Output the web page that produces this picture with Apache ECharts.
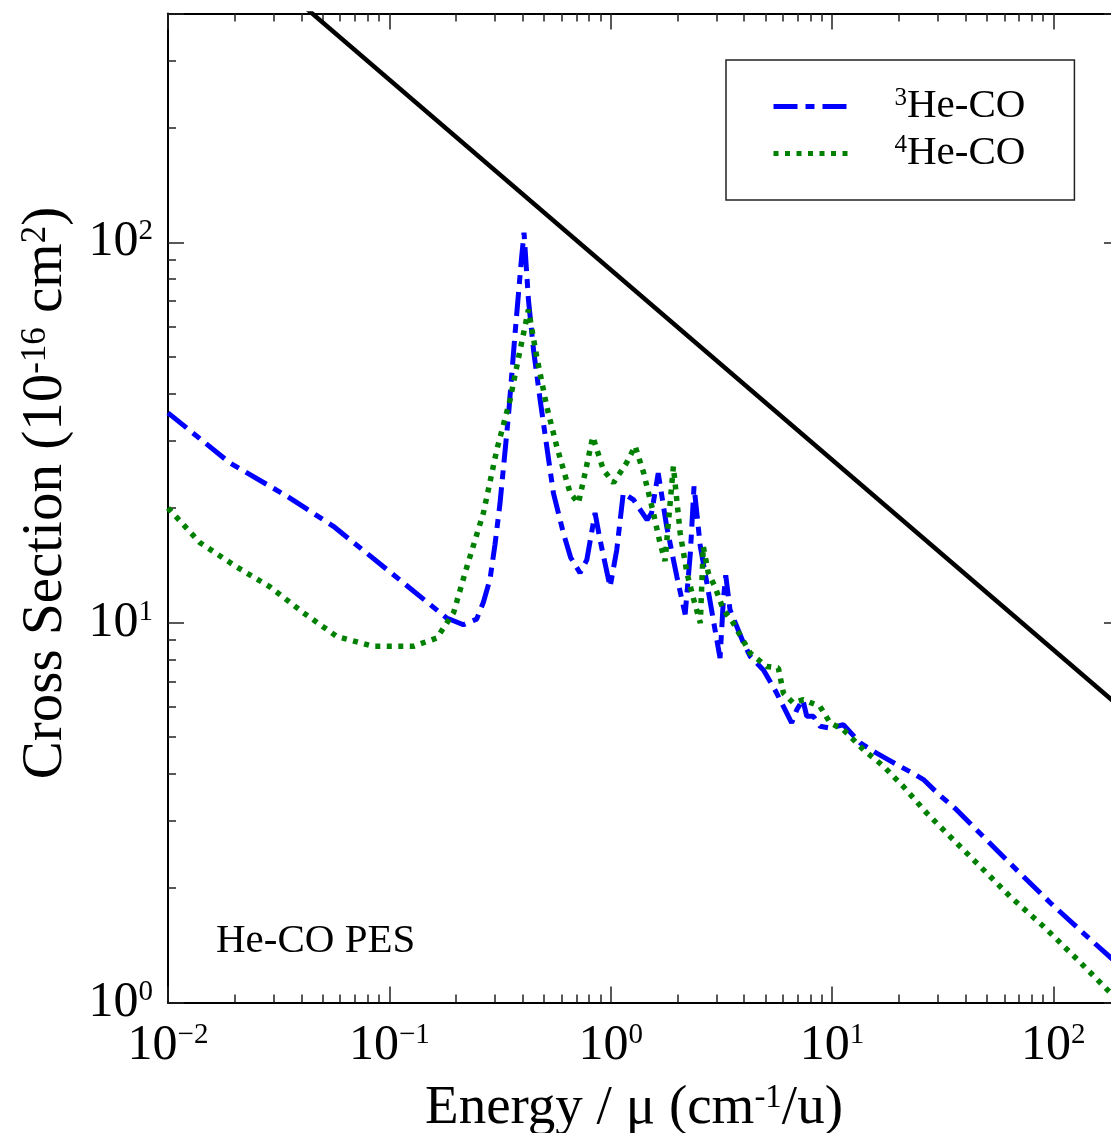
<!DOCTYPE html>
<html>
<head>
<meta charset="utf-8">
<script src="https://cdn.jsdelivr.net/npm/echarts@6/dist/echarts.min.js"></script>
<style>html,body{margin:0;padding:0;background:#fff}#c{width:1111px;height:1133px}</style>
</head>
<body>
<div id="c"></div>
<script>
// ---- data ----
const limitX = [0.01, 200];
const limitY = [847, 5.99];

const he3X = [0.01, 0.019, 0.0344, 0.0559, 0.0973, 0.1816, 0.216, 0.248, 0.266, 0.285, 0.30, 0.316, 0.345, 0.370, 0.395, 0.406, 0.425, 0.448, 0.48, 0.514, 0.551, 0.611, 0.66, 0.727, 0.78, 0.85, 0.895, 0.994, 1.065, 1.14, 1.27, 1.46, 1.53, 1.64, 1.79, 1.99, 2.17, 2.29, 2.38, 2.54, 2.72, 2.96, 3.12, 3.23, 3.31, 3.46, 3.98, 4.27, 4.9, 5.62, 6.03, 6.57, 6.93, 7.38, 7.69, 8.24, 8.83, 9.8, 11.25, 13.4, 15.9, 18.0, 20.3, 23.0, 25.9, 30.0, 36.6, 48.3, 68.4, 96.8, 137, 182, 200];
const he3Y = [35.6, 26.3, 21.5, 17.9, 13.8, 10.27, 9.86, 10.2, 11.3, 13.0, 16.0, 20.5, 34.8, 57.8, 90, 106, 70.7, 52.2, 38.5, 29.1, 21.9, 17.2, 14.8, 13.5, 14.6, 19.4, 16.5, 12.4, 15.5, 21.9, 21.0, 18.6, 19.4, 24.7, 17.9, 13.2, 10.5, 15.2, 22.8, 15.85, 12.7, 9.57, 8.06, 11.5, 13.3, 10.8, 8.83, 8.14, 7.5, 6.52, 6.01, 5.44, 5.89, 6.26, 5.66, 5.66, 5.33, 5.27, 5.38, 4.82, 4.53, 4.35, 4.18, 4.02, 3.86, 3.55, 3.21, 2.73, 2.23, 1.83, 1.52, 1.31, 1.25];

const he4X = [0.01, 0.01396, 0.0204, 0.0289, 0.0409, 0.0578, 0.0847, 0.128, 0.164, 0.195, 0.224, 0.266, 0.306, 0.351, 0.39, 0.425, 0.463, 0.514, 0.570, 0.656, 0.715, 0.766, 0.83, 0.927, 1.03, 1.18, 1.29, 1.41, 1.56, 1.67, 1.76, 1.85, 1.92, 2.06, 2.21, 2.37, 2.54, 2.62, 2.76, 2.96, 3.23, 3.58, 4.27, 5.07, 5.72, 6.03, 6.68, 7.43, 8.83, 9.8, 11.25, 13.9, 17.1, 21.0, 26.8, 34.2, 46.7, 63.8, 90.3, 128, 181, 200];
const he4Y = [20.0, 16.2, 14.0, 12.4, 10.6, 9.19, 8.65, 8.65, 9.1, 10.6, 14.0, 19.4, 28.5, 38.5, 52.2, 66.5, 50.1, 37.0, 29.1, 21.9, 20.6, 24.7, 30.8, 25.2, 23.3, 26.3, 29.1, 24.7, 19.4, 16.2, 14.5, 20.2, 25.7, 17.2, 13.5, 11.5, 9.96, 15.85, 13.5, 12.4, 10.8, 9.96, 8.3, 7.66, 7.59, 6.52, 6.14, 6.26, 6.01, 5.44, 5.22, 4.62, 4.18, 3.70, 3.15, 2.73, 2.28, 1.90, 1.585, 1.30, 1.06, 1.0];

const seriesNames = ['\u00b3He-CO', '\u2074He-CO'];
const legendSup = ['3', '4'];
const xTitle = 'Energy / \u03bc (cm{s|-1}/u)';
const yTitle = 'Cross Section (10{s|-16} cm{s|2})';
const annotation = 'He-CO PES';

// ---- chart ----
const FONT = '"Liberation Serif", "Times New Roman", serif';
const zip = (xs, ys) => xs.map((x, i) => [x, ys[i]]);

function powLabel(v) {
  const e = Math.log10(v);
  const r = Math.round(e);
  if (Math.abs(e - r) > 1e-6) return '';
  const s = r < 0 ? '\u2212' + (-r) : String(r);
  return '{b|10}{s|' + s + '}';
}
const tickRich = {
  b: {fontFamily: FONT, fontSize: 50, color: '#000'},
  s: {fontFamily: FONT, fontSize: 29, color: '#000', verticalAlign: 'top'}
};
function axisCommon(min, max) {
  return {
    type: 'log', logBase: 10, min: min, max: max,
    axisLine: {show: true, onZero: false, lineStyle: {color: '#000', width: 2}},
    axisTick: {show: true, inside: true, length: 16, lineStyle: {color: '#222', width: 1.5}},
    minorTick: {show: true, splitNumber: 9, length: 8, lineStyle: {color: '#222', width: 1.5}},
    splitLine: {show: false},
    minorSplitLine: {show: false}
  };
}

const chart = echarts.init(document.getElementById('c'), null, {renderer: 'canvas'});
chart.setOption({
  animation: false,
  backgroundColor: '#fff',
  grid: {left: 168, top: 13.5, width: 952, height: 989, containLabel: false, outerBoundsMode: 'none'},
  xAxis: [
    Object.assign(axisCommon(0.01, 200), {
      position: 'bottom',
      name: xTitle, nameLocation: 'middle', nameGap: 79,
      nameTextStyle: {fontFamily: FONT, fontSize: 55, color: '#000', padding: [0, 20, 0, 0],
        rich: {s: {fontFamily: FONT, fontSize: 33, color: '#000', verticalAlign: 'top'}}},
      axisLabel: {show: true, margin: 18, formatter: powLabel, rich: tickRich}
    }),
    Object.assign(axisCommon(0.01, 200), {position: 'top', axisLabel: {show: false}})
  ],
  yAxis: [
    Object.assign(axisCommon(1, 400), {
      position: 'left',
      name: yTitle, nameLocation: 'middle', nameGap: 93, nameRotate: 90,
      nameTextStyle: {fontFamily: FONT, fontSize: 57, color: '#000', padding: [0, 0, 0, 30],
        rich: {s: {fontFamily: FONT, fontSize: 35, color: '#000', verticalAlign: 'top'}}},
      axisLabel: {show: true, margin: 15, formatter: powLabel, rich: tickRich}
    }),
    Object.assign(axisCommon(1, 400), {position: 'right', axisLabel: {show: false}})
  ],
  legend: {
    orient: 'vertical', left: 726, top: 60,
    padding: [26, 49, 26, 45],
    itemWidth: 76, itemHeight: 14, itemGap: 6,
    borderColor: '#222', borderWidth: 1.5, backgroundColor: '#fff',
    itemStyle: {opacity: 0},
    lineStyle: {width: 5},
    data: seriesNames,
    formatter: function (name) {
      const i = seriesNames.indexOf(name);
      return '{s|' + legendSup[i] + '}{t|He-CO}';
    },
    textStyle: {
      fontFamily: FONT, fontSize: 41, color: '#000',
      rich: {
        s: {fontFamily: FONT, fontSize: 25, color: '#000', verticalAlign: 'top', padding: [0, 0, 0, 40]},
        t: {fontFamily: FONT, fontSize: 41, color: '#000'}
      }
    }
  },
  graphic: [{
    type: 'text', left: 216, top: 921,
    style: {text: annotation, font: '41px ' + FONT, fill: '#000'}
  }],
  series: [
    {
      type: 'line', name: 'limit', data: zip(limitX, limitY), symbol: 'none', clip: true,
      lineStyle: {color: '#000', width: 4.5}, z: 3
    },
    {
      type: 'line', name: seriesNames[0], data: zip(he3X, he3Y), symbol: 'none', clip: true,
      itemStyle: {color: '#0000ff'},
      lineStyle: {color: '#0000ff', width: 5, type: [24, 8, 9, 8], cap: 'butt'}, z: 4
    },
    {
      type: 'line', name: seriesNames[1], data: zip(he4X, he4Y), symbol: 'none', clip: true,
      itemStyle: {color: '#008000'},
      lineStyle: {color: '#008000', width: 5.5, type: [5, 6.5], cap: 'butt'}, z: 5
    }
  ]
});
</script>
</body>
</html>
